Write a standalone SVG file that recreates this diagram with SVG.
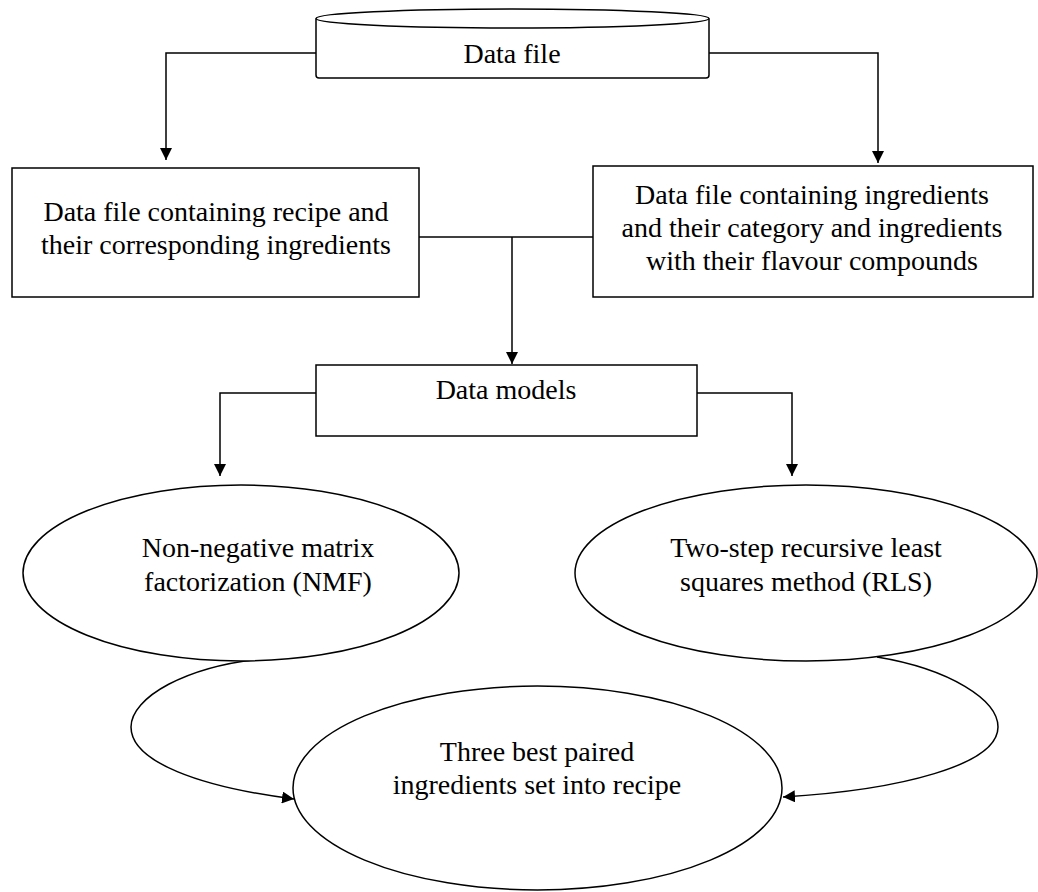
<svg xmlns="http://www.w3.org/2000/svg" width="1038" height="892" viewBox="0 0 1038 892">
  <style>
    .shape { fill: #ffffff; stroke: #000000; stroke-width: 1.5; }
    .wire { fill: none; stroke: #000000; stroke-width: 1.5; }
    .label { font-family: "Liberation Serif", "Times New Roman", serif; font-size: 28px; fill: #000000; text-anchor: middle; }
  </style>
  <defs>
    <marker id="arrow" viewBox="0 0 12 12" refX="12" refY="6" markerWidth="12" markerHeight="12" markerUnits="userSpaceOnUse" orient="auto">
      <path d="M0,0 L12,6 L0,12 Z" fill="#000000"/>
    </marker>
  </defs>
  <rect width="1038" height="892" fill="#ffffff"/>

  <g id="connectors">
    <polyline class="wire" points="316,53 166,53 166,160" marker-end="url(#arrow)"/>
    <polyline class="wire" points="709,53 878,53 878,163" marker-end="url(#arrow)"/>
    <line class="wire" x1="419" y1="237" x2="593" y2="237"/>
    <line class="wire" x1="512" y1="237" x2="512" y2="364" marker-end="url(#arrow)"/>
    <polyline class="wire" points="316,393 220,393 220,476" marker-end="url(#arrow)"/>
    <polyline class="wire" points="697,393 792,393 792,476" marker-end="url(#arrow)"/>
    <path class="wire" d="M270,658 C185,665 131,698 131,727 C131,762 200,787 294,799" marker-end="url(#arrow)"/>
    <path class="wire" d="M877,657 C950,669 998,700 998,727 C998,765 900,790 783,797" marker-end="url(#arrow)"/>
  </g>

  <g id="data-file">
    <path class="shape" d="M316,18.5 L316,75 Q316,78 319,78 L706,78 Q709,78 709,75 L709,18.5"/>
    <ellipse class="shape" cx="512.5" cy="18.5" rx="196.5" ry="9.5"/>
    <text class="label" x="512" y="63">Data file</text>
  </g>

  <g id="recipe-file">
    <rect class="shape" x="12" y="168" width="407" height="129"/>
    <text class="label" x="216" y="221">Data file containing recipe and</text>
    <text class="label" x="216" y="254">their corresponding ingredients</text>
  </g>

  <g id="ingredient-file">
    <rect class="shape" x="593" y="166" width="440" height="131"/>
    <text class="label" x="812" y="204">Data file containing ingredients</text>
    <text class="label" x="812" y="237">and their category and ingredients</text>
    <text class="label" x="812" y="270">with their flavour compounds</text>
  </g>

  <g id="data-models">
    <rect class="shape" x="316" y="365" width="381" height="71"/>
    <text class="label" x="506" y="399">Data models</text>
  </g>

  <g id="nmf">
    <ellipse class="shape" cx="241" cy="573" rx="218" ry="88"/>
    <text class="label" x="258" y="557">Non-negative matrix</text>
    <text class="label" x="258" y="591">factorization (NMF)</text>
  </g>

  <g id="rls">
    <ellipse class="shape" cx="806" cy="573" rx="231" ry="88"/>
    <text class="label" x="806" y="557">Two-step recursive least</text>
    <text class="label" x="806" y="591">squares method (RLS)</text>
  </g>

  <g id="best-pairs">
    <ellipse class="shape" cx="537.5" cy="788" rx="244.5" ry="102"/>
    <text class="label" x="537" y="761">Three best paired</text>
    <text class="label" x="537" y="794">ingredients set into recipe</text>
  </g>
</svg>
